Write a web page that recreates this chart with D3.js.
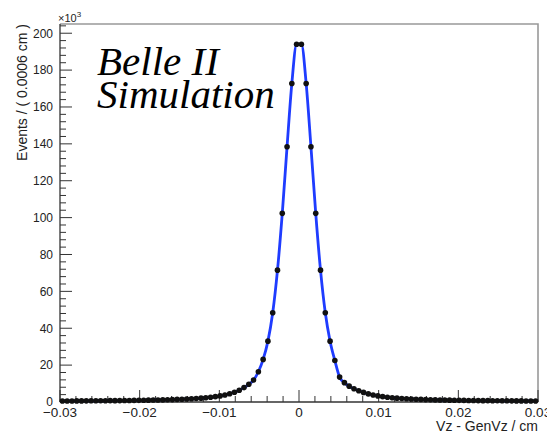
<!DOCTYPE html>
<html>
<head>
<meta charset="utf-8">
<script src="https://cdn.jsdelivr.net/npm/d3@7"></script>
<style>
    body { margin: 0; background: #fff; }
    #chart { width: 547px; height: 437px; }
    text { font-family: "Liberation Sans", Arial, sans-serif; fill: #222; }
</style>
</head>
<body>
<div id="chart"></div>
<script>

// histogram binning (100 bins of 0.0006 cm from -0.03 to 0.03)
let binEdges = [-0.03, 0.03];
let binWidth = 0.0006;

// bin contents in units of 10^3 events, left to right
let countsLeft = [0.56, 0.57, 0.58, 0.59, 0.6, 0.62, 0.64, 0.66, 0.68, 0.7,
    0.72, 0.74, 0.77, 0.8, 0.83, 0.86, 0.9, 0.95, 1.0, 1.05,
    1.1, 1.15, 1.22, 1.3, 1.4, 1.5, 1.6, 1.75, 1.9, 2.1,
    2.3, 2.6, 2.9, 3.3, 3.8, 4.5, 5.3, 6.4, 7.8, 9.6,
    11.9, 16.4, 23.1, 33, 48.4, 71.5, 102.3, 138.4, 172.7, 194];
let countsRight = [194, 172.7, 138.4, 102.3, 71.5, 48.4, 33, 22.5, 13.5, 10.5,
    8.6, 7.2, 6.1, 5.2, 4.4, 3.8, 3.3, 2.9, 2.6, 2.3,
    2.1, 1.9, 1.75, 1.6, 1.5, 1.4, 1.3, 1.22, 1.15, 1.1,
    1.05, 1.0, 0.95, 0.9, 0.86, 0.83, 0.8, 0.77, 0.74, 0.72,
    0.7, 0.68, 0.66, 0.64, 0.62, 0.6, 0.59, 0.58, 0.57, 0.56];

let yTicks = [0, 20, 40, 60, 80, 100, 120, 140, 160, 180, 200];
let xTicks = [-0.03, -0.02, -0.01, 0, 0.01, 0.02, 0.03];
let xTitle = "Vz - GenVz / cm";
let yTitle = "Events / ( 0.0006 cm )";
let labelLines = ["Belle II", "Simulation"];

class ResolutionVis {

    constructor(parentElement, counts) {
        this.parentElement = parentElement;
        this.counts = counts;
        this.initVis();
    }

    initVis() {
        let vis = this;

        vis.margin = {top: 24, right: 9, bottom: 35, left: 60};
        vis.width = 547 - vis.margin.left - vis.margin.right;
        vis.height = 437 - vis.margin.top - vis.margin.bottom;

        vis.svg = d3.select("#" + vis.parentElement).append("svg")
            .attr("width", 547)
            .attr("height", 437)
            .append("g")
            .attr("transform", `translate(${vis.margin.left}, ${vis.margin.top})`);

        vis.x = d3.scaleLinear().domain(binEdges).range([0, vis.width]);
        vis.y = d3.scaleLinear().domain([0, 205]).range([vis.height, 0]);

        // frame (top / right in grey like the ROOT canvas)
        vis.svg.append("path")
            .attr("d", `M0,0H${vis.width}V${vis.height}`)
            .attr("fill", "none")
            .attr("stroke", "#999")
            .attr("stroke-width", 1.6);

        // y axis: ticks pointing inwards, minor every 4
        let yMinor = d3.range(0, 205, 4).filter(v => v % 20 !== 0);
        let yAxis = vis.svg.append("g");
        yAxis.selectAll(".minor").data(yMinor).enter().append("line")
            .attr("x1", 0).attr("x2", 6)
            .attr("y1", d => vis.y(d)).attr("y2", d => vis.y(d))
            .attr("stroke", "#333");
        yAxis.selectAll(".major").data(yTicks).enter().append("line")
            .attr("x1", 0).attr("x2", 12)
            .attr("y1", d => vis.y(d)).attr("y2", d => vis.y(d))
            .attr("stroke", "#333");
        yAxis.selectAll("text").data(yTicks).enter().append("text")
            .attr("x", -7)
            .attr("y", d => vis.y(d))
            .attr("dy", "0.36em")
            .attr("text-anchor", "end")
            .style("font-size", "12px")
            .text(d => d);
        yAxis.append("line")
            .attr("x1", 0).attr("x2", 0).attr("y1", 0).attr("y2", vis.height)
            .attr("stroke", "#333").attr("stroke-width", 1.3);

        // x axis: major 0.01, minor 0.002
        let xMinor = d3.range(-15, 16).map(i => i * 0.002).filter((v, i) => (i % 5) !== 0);
        let xAxis = vis.svg.append("g").attr("transform", `translate(0, ${vis.height})`);
        xAxis.selectAll(".minor").data(xMinor).enter().append("line")
            .attr("x1", d => vis.x(d)).attr("x2", d => vis.x(d))
            .attr("y1", 0).attr("y2", -6)
            .attr("stroke", "#333");
        xAxis.selectAll(".major").data(xTicks).enter().append("line")
            .attr("x1", d => vis.x(d)).attr("x2", d => vis.x(d))
            .attr("y1", 0).attr("y2", -12)
            .attr("stroke", "#333");
        xAxis.selectAll("text").data(xTicks).enter().append("text")
            .attr("x", d => vis.x(d))
            .attr("y", 15)
            .attr("text-anchor", "middle")
            .style("font-size", "13.5px")
            .text(d => d === 0 ? "0" : d3.format(".2f")(d).replace("-", "\u2212"));
        xAxis.append("line")
            .attr("x1", 0).attr("x2", vis.width)
            .attr("stroke", "#333").attr("stroke-width", 1.3);

        // axis titles
        vis.svg.append("text")
            .attr("x", vis.width)
            .attr("y", vis.height + 29)
            .attr("text-anchor", "end")
            .style("font-size", "14px")
            .text(xTitle);
        vis.svg.append("text")
            .attr("transform", `translate(-33, 0) rotate(-90)`)
            .attr("text-anchor", "end")
            .style("font-size", "14px")
            .text(yTitle);

        // x10^3 multiplier
        let mult = vis.svg.append("text")
            .attr("x", -2)
            .attr("y", -2)
            .style("font-size", "11px");
        mult.append("tspan").text("\u00d710");
        mult.append("tspan").attr("dy", -5).style("font-size", "8px").text("3");

        // Belle II label
        vis.svg.selectAll(".belle").data(labelLines).enter().append("text")
            .attr("x", 37)
            .attr("y", (d, i) => 51 + i * 33)
            .style("font-family", "'Liberation Serif', 'Times New Roman', serif")
            .style("font-style", "italic")
            .style("font-size", "41px")
            .style("fill", "#000")
            .text(d => d);

        this.wrangleData();
    }

    wrangleData() {
        let vis = this;
        vis.displayData = vis.counts.map((c, i) => ({
            x: binEdges[0] + (i + 0.5) * binWidth,
            y: c
        }));
        vis.updateVis();
    }

    updateVis() {
        let vis = this;

        // fit curve
        vis.svg.append("path")
            .datum(vis.displayData)
            .attr("fill", "none")
            .attr("stroke", "#1f3cff")
            .attr("stroke-width", 2.8)
            .attr("d", d3.line()
                .x(d => vis.x(d.x))
                .y(d => vis.y(d.y))
                .curve(d3.curveMonotoneX));

        // data points
        vis.svg.selectAll(".pt").data(vis.displayData).enter().append("circle")
            .attr("cx", d => vis.x(d.x))
            .attr("cy", d => vis.y(d.y))
            .attr("r", 2.8)
            .attr("fill", "#111");
    }
}

let resVis = new ResolutionVis("chart", countsLeft.concat(countsRight));

</script>
</body>
</html>
